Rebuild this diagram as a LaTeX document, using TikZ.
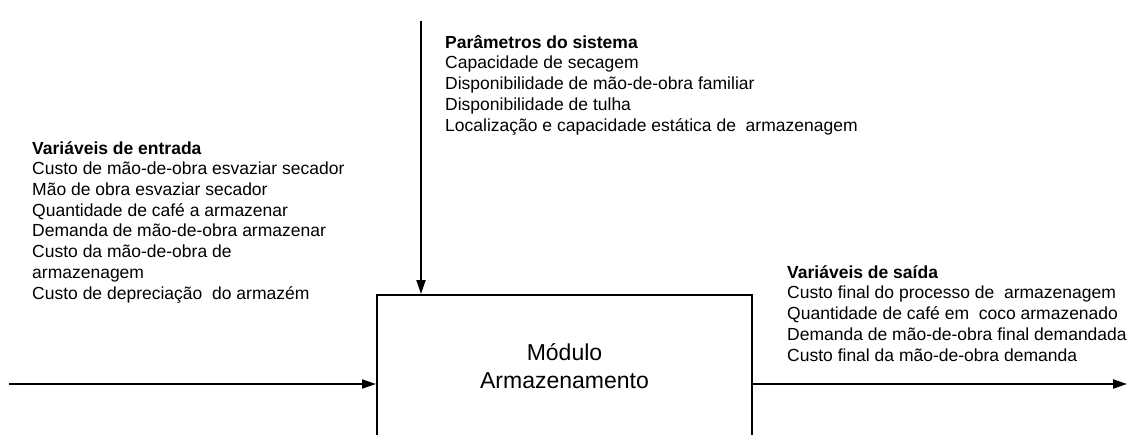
\documentclass[tikz,border=0pt]{standalone}
\usepackage{fontspec}
\setmainfont{Liberation Sans}
\usetikzlibrary{positioning, arrows.meta}

\begin{document}
\begin{tikzpicture}[x=1pt, y=1pt,
    lista/.style={align=left, inner sep=0pt, anchor=base west, font=\fontsize{17.5}{20.7}\selectfont},
    seta/.style={line width=2pt, -{Triangle[length=14pt, width=9pt]}}]
    % Define the area
    \useasboundingbox (0,0) rectangle (1143,-434);
    \clip (0,0) rectangle (1143,-434);
    % Define the nodes
    \node (modulo) [rectangle, draw, line width=2pt, minimum width=375pt, minimum height=142pt, align=center, font=\fontsize{23}{27.5}\selectfont] at (564.5,-366) {Módulo\\Armazenamento};
    \node (entrada) [lista] at (32,-299) {\textbf{Variáveis de entrada}\\Custo de mão-de-obra esvaziar secador\\Mão de obra esvaziar secador\\Quantidade de café a armazenar\\Demanda de mão-de-obra armazenar\\Custo da mão-de-obra de\\armazenagem\\Custo de depreciação\ \ do armazém};
    \node (parametros) [lista] at (445,-131) {\textbf{Parâmetros do sistema}\\Capacidade de secagem\\Disponibilidade de mão-de-obra familiar\\Disponibilidade de tulha\\Localização e capacidade estática de\ \ armazenagem};
    \node (saida) [lista] at (787,-361) {\textbf{Variáveis de saída}\\Custo final do processo de\ \ armazenagem\\Quantidade de café em\ \ coco armazenado\\Demanda de mão-de-obra final demandada\\Custo final da mão-de-obra demanda};
    \coordinate (ini) at (9,-384);
    \coordinate (fim) at (1127,-384);
    \coordinate (topo) at (421,-21);
    % Connect the nodes
    \draw [seta] (ini) -- (ini -| modulo.west);
    \draw [seta] (modulo.east |- fim) -- (fim);
    \draw [seta] (topo) -- (topo |- modulo.north);
\end{tikzpicture}
\end{document}
